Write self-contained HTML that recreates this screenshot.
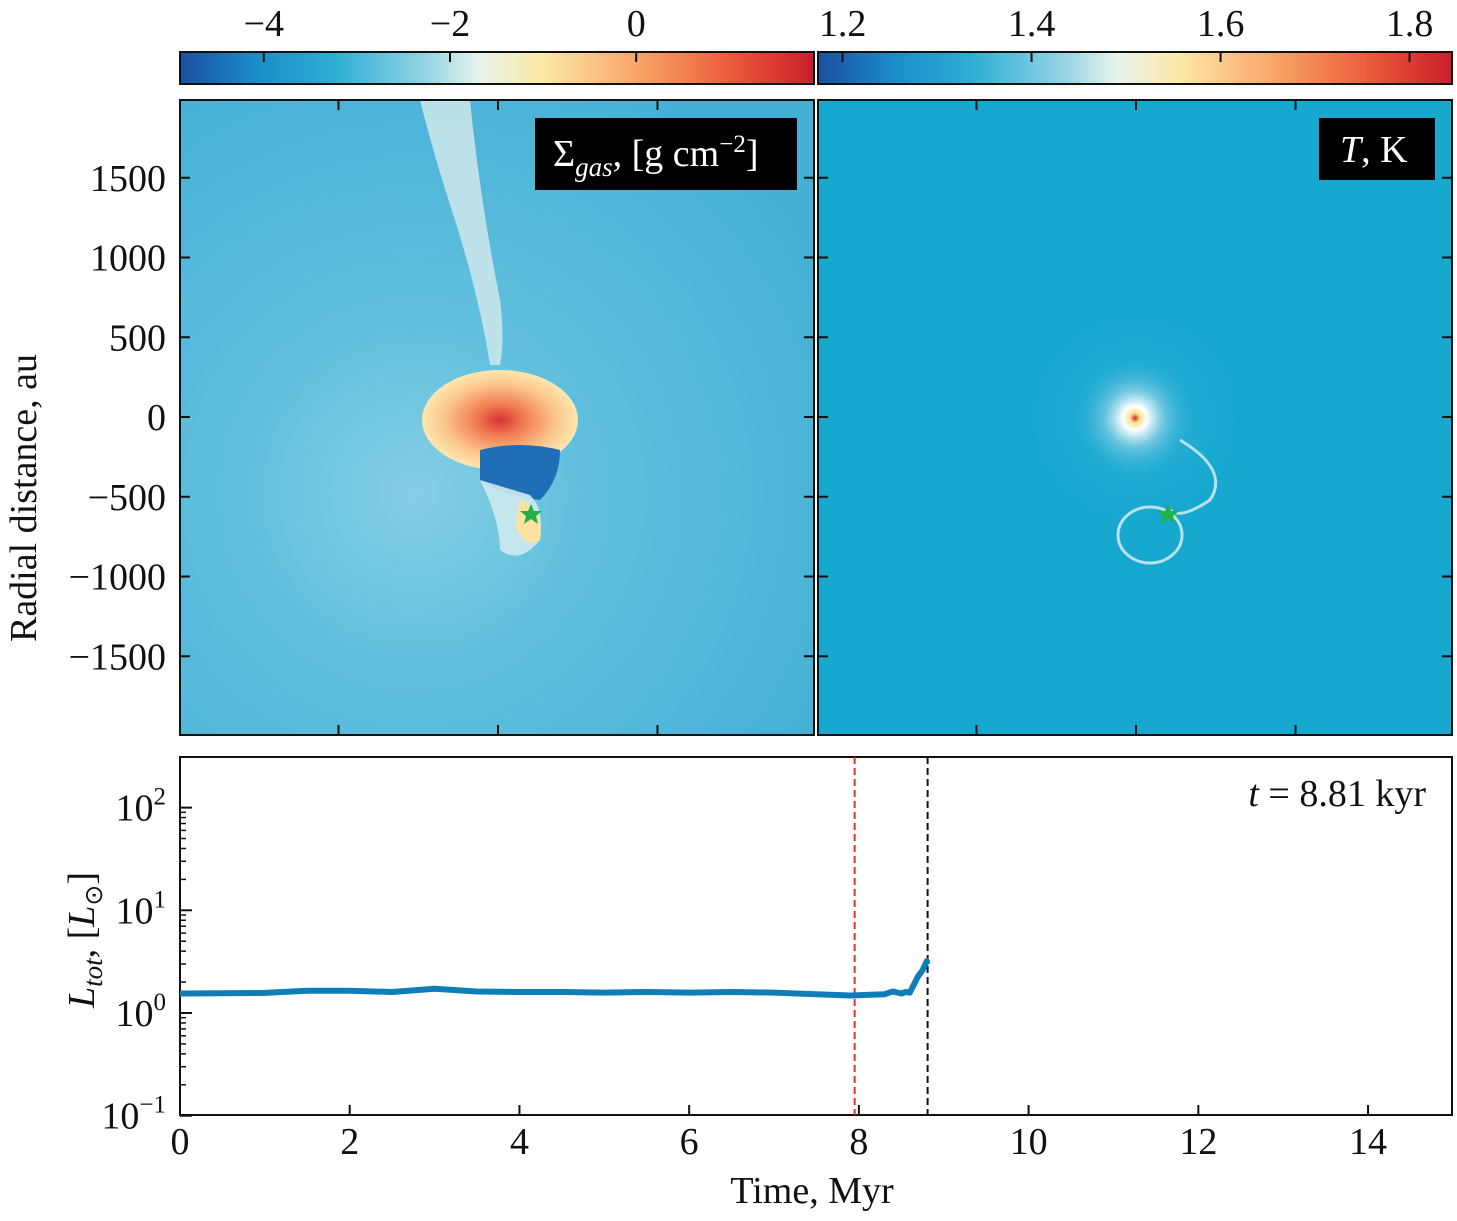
<!DOCTYPE html>
<html><head><meta charset="utf-8"><style>
body{margin:0;background:#fff;}
svg text{font-family:"Liberation Serif",serif;fill:#111;}
</style></head><body>
<svg id="fig" width="1457" height="1216" viewBox="0 0 1457 1216">
<defs>
<linearGradient id="cmap1" x1="0" x2="1" y1="0" y2="0">
<stop offset="0" stop-color="#1a4fa0"/><stop offset="0.12" stop-color="#1b8cc8"/><stop offset="0.25" stop-color="#30b0d5"/><stop offset="0.4" stop-color="#9fd8e6"/><stop offset="0.47" stop-color="#e6f3ee"/><stop offset="0.57" stop-color="#fce9a6"/><stop offset="0.72" stop-color="#f8a66a"/><stop offset="0.87" stop-color="#ec5a3a"/><stop offset="1" stop-color="#c61f2a"/>
</linearGradient>
<radialGradient id="lbg" cx="0.37" cy="0.62" r="0.75">
<stop offset="0" stop-color="#86cfe4"/><stop offset="0.35" stop-color="#62c0de"/><stop offset="1" stop-color="#44b0d6"/>
</radialGradient>
<radialGradient id="disk" cx="0.5" cy="0.5" r="0.5">
<stop offset="0" stop-color="#d8323a"/><stop offset="0.3" stop-color="#f07a4f"/><stop offset="0.7" stop-color="#fbc48a"/><stop offset="1" stop-color="#fde8b0"/>
</radialGradient>
<radialGradient id="hot" cx="0.5" cy="0.5" r="0.5">
<stop offset="0" stop-color="#d0202a"/><stop offset="0.08" stop-color="#fbe08a"/><stop offset="0.2" stop-color="#ffffff"/><stop offset="0.5" stop-color="#8fd2e6" stop-opacity="0.6"/><stop offset="1" stop-color="#18a8d0" stop-opacity="0"/>
</radialGradient>
<radialGradient id="halo" cx="0.5" cy="0.5" r="0.5">
<stop offset="0" stop-color="#4fbcdc" stop-opacity="0.7"/><stop offset="1" stop-color="#17a8d0" stop-opacity="0"/>
</radialGradient>
</defs>

<rect x="180" y="52" width="634" height="32" fill="url(#cmap1)" stroke="#111" stroke-width="2"/>
<rect x="818" y="52" width="634" height="32" fill="url(#cmap1)" stroke="#111" stroke-width="2"/>
<g id="cbticks"></g>

<g>
<rect x="180" y="100" width="634" height="635" fill="url(#lbg)"/>
<path d="M420 100 L470 100 Q480 200 500 300 Q505 340 500 365 L490 365 Q480 300 455 220 Q435 160 420 100Z" fill="#c8e6ea" opacity="0.9"/>
<ellipse cx="500" cy="420" rx="78" ry="50" fill="url(#disk)"/>
<path d="M480 450 Q520 440 560 450 Q560 480 540 500 Q500 495 480 480Z" fill="#1e6fb8"/>
<path d="M480 480 Q500 520 500 550 Q520 565 540 540 Q545 510 530 495Z" fill="#cde9ee" opacity="0.9"/>
<path d="M520 500 Q545 510 540 540 Q525 550 515 525Z" fill="#fde2a0"/>
<polygon points="531,504 534,511 542,511 536,516 538,524 531,519 524,524 526,516 520,511 528,511" fill="#22b04b"/>
<rect x="535" y="118" width="262" height="72" fill="#000"/>
<text x="553" y="166" font-size="38" style="fill:#fff">Σ<tspan font-style="italic" font-size="27" dy="10">gas</tspan><tspan dy="-10">, [g cm</tspan><tspan font-size="25" dy="-14">−2</tspan><tspan dy="14">]</tspan></text>
<rect x="180" y="100" width="634" height="635" fill="none" stroke="#111" stroke-width="2"/>
</g>

<g>
<rect x="818" y="100" width="634" height="635" fill="#17a8d0"/>
<circle cx="1135" cy="418" r="110" fill="url(#halo)"/>
<circle cx="1135" cy="418" r="60" fill="url(#hot)"/>
<path d="M1180 440 Q1230 470 1210 500 Q1180 520 1170 510" fill="none" stroke="#b8e2ee" stroke-width="3"/>
<ellipse cx="1150" cy="535" rx="32" ry="28" fill="none" stroke="#b8e2ee" stroke-width="3"/>
<polygon points="1168,504 1171,511 1179,511 1173,516 1175,524 1168,519 1161,524 1163,516 1157,511 1165,511" fill="#22b04b"/>
<rect x="1319" y="118" width="116" height="62" fill="#000"/>
<text x="1340" y="162" font-size="38" style="fill:#fff"><tspan font-style="italic">T</tspan>, K</text>
<rect x="818" y="100" width="634" height="635" fill="none" stroke="#111" stroke-width="2"/>
</g>
<g id="panelticks"></g>
<text transform="translate(36,498) rotate(-90)" font-size="38" text-anchor="middle">Radial distance, au</text>

<g id="bottom">
<rect x="180" y="757" width="1272" height="358" fill="#fff" stroke="#111" stroke-width="2"/>
</g>
<text x="1426" y="806" font-size="38" text-anchor="end"><tspan font-style="italic">t</tspan> = 8.81 kyr</text>
<text x="812" y="1203" font-size="38" text-anchor="middle">Time, Myr</text>
<text transform="translate(94,940) rotate(-90)" font-size="38" text-anchor="middle"><tspan font-style="italic">L</tspan><tspan font-style="italic" font-size="27" dy="8">tot</tspan><tspan dy="-8">, [</tspan><tspan font-style="italic">L</tspan><tspan font-size="25" dy="8">⊙</tspan><tspan dy="-8">]</tspan></text>
</svg>
<script>
const cb1Ticks=[-4,-2,0];
const cb2Ticks=[1.2,1.4,1.6,1.8];
const panelYTicks=[1500,1000,500,0,-500,-1000,-1500];
const panelXTicks=[-1000,0,1000];
const timeTicks=[0,2,4,6,8,10,12,14];
const lumTickExps=[-1,0,1,2];
const times=[0,0.5,1,1.5,2,2.5,3,3.5,4,4.5,5,5.5,6,6.5,7,7.5,7.9,8.1,8.3,8.4,8.5,8.55,8.6,8.65,8.7,8.75,8.8,8.81];
const lum=[1.55,1.56,1.57,1.65,1.65,1.6,1.72,1.62,1.6,1.6,1.58,1.6,1.58,1.6,1.58,1.52,1.48,1.5,1.52,1.62,1.55,1.6,1.58,1.9,2.3,2.6,3.2,3.0];
const redLine=7.95, blackLine=8.81;
const NS="http://www.w3.org/2000/svg";
const svg=document.getElementById('fig');
function mk(t,a,p){const e=document.createElementNS(NS,t);for(const k in a)e.setAttribute(k,a[k]);(p||svg).appendChild(e);return e;}
const cb1=v=>180+(v+4.9)*93.1, cb2=v=>818+(v-1.174)*945;
const cbg=document.getElementById('cbticks');
cb1Ticks.forEach(v=>{const x=cb1(v);mk('line',{x1:x,x2:x,y1:52,y2:62,stroke:'#111','stroke-width':2},cbg);
const t=mk('text',{x:x,y:36,'font-size':38,'text-anchor':'middle'},cbg);t.textContent=v<0?'−'+(-v):v;

});
cb2Ticks.forEach(v=>{const x=cb2(v);mk('line',{x1:x,x2:x,y1:52,y2:62,stroke:'#111','stroke-width':2},cbg);
const t=mk('text',{x:x,y:36,'font-size':38,'text-anchor':'middle'},cbg);t.textContent=v.toFixed(1);

});
const py=v=>417-v*0.1595, pxL=v=>498+v*0.1595;
const pg=document.getElementById('panelticks');
panelYTicks.forEach(v=>{const y=py(v);
[[180,190],[804,814],[818,828],[1442,1452]].forEach(s=>mk('line',{x1:s[0],x2:s[1],y1:y,y2:y,stroke:'#111','stroke-width':2},pg));
const t=mk('text',{x:166,y:y+13,'font-size':38,'text-anchor':'end'},pg);t.textContent=v<0?'−'+(-v):v;

});
panelXTicks.forEach(v=>{[0,638].forEach(o=>{const x=pxL(v)+o;
mk('line',{x1:x,x2:x,y1:100,y2:110,stroke:'#111','stroke-width':2},pg);
mk('line',{x1:x,x2:x,y1:725,y2:735,stroke:'#111','stroke-width':2},pg);});});
const bx=v=>180+v*84.86, by=v=>1013-Math.log10(v)*102.7;
const bg=document.getElementById('bottom');
timeTicks.forEach(v=>{const x=bx(v);mk('line',{x1:x,x2:x,y1:1105,y2:1115,stroke:'#111','stroke-width':2},bg);
const t=mk('text',{x:x,y:1154,'font-size':38,'text-anchor':'middle'},bg);t.textContent=v;

});
lumTickExps.forEach(e=>{const y=by(Math.pow(10,e));mk('line',{x1:180,x2:192,y1:y,y2:y,stroke:'#111','stroke-width':2},bg);
for(let m=2;m<10&&e<2;m++){const yy=by(m*Math.pow(10,e));mk('line',{x1:180,x2:186,y1:yy,y2:yy,stroke:'#111','stroke-width':1.5},bg);}
const t=mk('text',{x:166,y:y+13,'font-size':38,'text-anchor':'end'},bg);
t.innerHTML='10<tspan font-size="25" dy="-16">'+(e<0?'−'+(-e):e)+'</tspan>';

});
const rl=mk('line',{x1:bx(redLine),x2:bx(redLine),y1:757,y2:1115,stroke:'#e03030','stroke-width':2,'stroke-dasharray':'7,4'},bg);


const kl=mk('line',{x1:bx(blackLine),x2:bx(blackLine),y1:757,y2:1115,stroke:'#111','stroke-width':2,'stroke-dasharray':'7,4'},bg);


const d=times.map((t,i)=>(i?'L':'M')+bx(t).toFixed(1)+' '+by(lum[i]).toFixed(1)).join(' ');
const ln=mk('path',{d:d,fill:'none',stroke:'#0e7db8','stroke-width':6,'stroke-linejoin':'round'},bg);


</script>
</body></html>
